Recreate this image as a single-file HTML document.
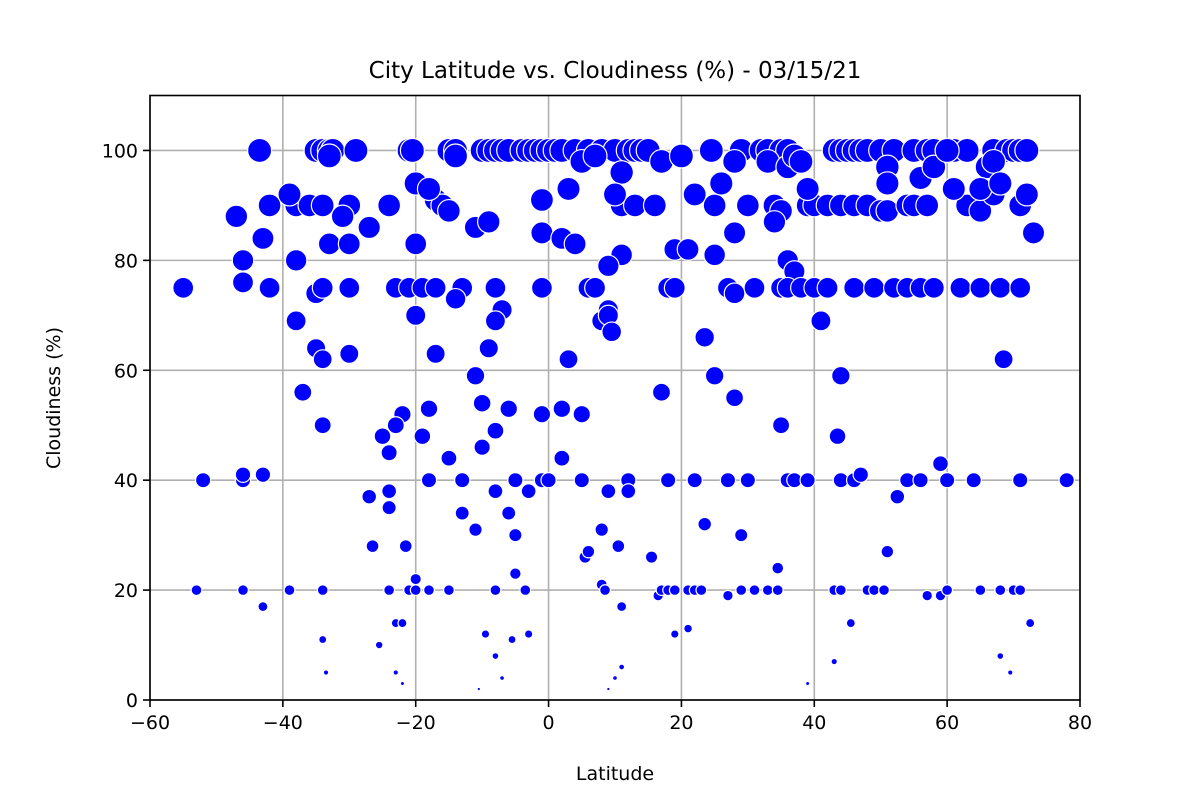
<!DOCTYPE html>
<html><head><meta charset="utf-8"><style>
body{margin:0;background:#fff;}
svg{display:block;font-family:"DejaVu Sans","Liberation Sans",sans-serif;}
</style></head><body>
<svg id="chart" width="1200" height="800">
<rect width="1200" height="800" fill="#fff"/>
<text x="615" y="78" text-anchor="middle" font-size="23" fill="#000">City Latitude vs. Cloudiness (%) - 03/15/21</text>
<g id="grid"></g><g id="pts"></g><g id="axes"></g>
<text x="615" y="780" text-anchor="middle" font-size="19">Latitude</text>
<text transform="translate(60,398) rotate(-90)" text-anchor="middle" font-size="19">Cloudiness (%)</text>
</svg>
<script>
const lats=[-43.5,-35,-34,-33,-32.5,-29,-21,-20.5,-15,-14,-10,-9,-8,-7,-6,-4,-3,-2,-1,0,1,2,4,6,8,10,12,13,14,15,24.5,29,32,33,35,36,43,44,45,46,47,48,50,52,55,57,58,60,61,63,67,69,70,71,72,
-33,-14,5,7,17,20,28,33,36,37,38,51,66,
-42,-38,-36,-34,-30,-24,-17,-16,-15,11,13,16,25,30,34,35,39,40,42,44,46,48,50,51,54,55,57,63,65,67,71,72,
-39,-20,-18,11,10,22,26,39,51,56,58,60,61,65,67,68,
-47,-31,-27,-11,-9,-33,-30,-20,-43,-1,-1,2,3,4,11,9,19,21,25,28,34,36,37,73,
-55,-46,-42,-38,-35,-34,-30,-23,-21,-19,-17,-13,-14,-8,-1,6,7,18,19,27,28,31,35,36,38,40,42,46,49,52,54,56,58,62,65,68,71,
-46,-38,-20,-7,-8,8,9,9,9.5,23.5,41,68.5,-35,-34,-30,-9,3,-11,25,44,
-37,-17,-34,-18,-22,-23,-25,-19,-10,-6,-1,2,5,-8,-10,17,28,35,43.5,
-52,-46,-46,-43,-24,-18,-13,-15,-5,-1,0,2,5,12,18,22,27,30,36,37,39,44,46,47,54,56,59,60,64,71,78,
-27,-24,-24,-13,-11,-8,-6,-5,-3,9,12,8,23.5,29,52.5,
-26.5,-21.5,-5,5.5,6,10.5,15.5,34.5,51,8,-20,
-53,-46,-39,-34,-24,-21,-20,-18,-15,-8,-3.5,8.5,16.5,17,18,19,21,22,23,27,29,31,33,34.5,43,44,48,49,50.5,57,59,60,65,68,70,71,
-43,-34,-23,-22,-25.5,-9.5,-5.5,-3,11,19,21,45.5,72.5,-33.5,-23,-22,-8,-7,-10.5,11,10,9,39,43,68,69.5];
const clouds=[100,100,100,100,100,100,100,100,100,100,100,100,100,100,100,100,100,100,100,100,100,100,100,100,100,100,100,100,100,100,100,100,100,100,100,100,100,100,100,100,100,100,100,100,100,100,100,100,100,100,100,100,100,100,100,
99,99,98,99,98,99,98,98,97,99,98,97,97,
90,90,90,90,90,90,91,90,89,90,90,90,90,90,90,89,90,90,90,90,90,90,89,89,90,90,90,90,89,92,90,92,
92,94,93,96,92,92,94,93,94,95,97,100,93,93,98,94,
88,88,86,86,87,83,83,83,84,91,85,84,93,83,81,79,82,82,81,85,87,80,78,85,
75,80,75,80,74,75,75,75,75,75,75,75,73,75,75,75,75,75,75,75,74,75,75,75,75,75,75,75,75,75,75,75,75,75,75,75,75,
76,69,70,71,69,69,71,70,67,66,69,62,64,62,63,64,62,59,59,59,
56,63,50,53,52,50,48,48,54,53,52,53,52,49,46,56,55,50,48,
40,40,41,41,45,40,40,44,40,40,40,44,40,40,40,40,40,40,40,40,40,40,40,41,40,40,43,40,40,40,40,
37,38,35,34,31,38,34,30,38,38,38,31,32,30,37,
28,28,23,26,27,28,26,24,27,21,22,
20,20,20,20,20,20,20,20,20,20,20,20,19,20,20,20,20,20,20,19,20,20,20,20,20,20,20,20,20,19,19,20,20,20,20,20,
17,11,14,14,10,12,11,12,17,12,13,14,14,5,5,3,8,4,2,6,4,2,3,7,8,5];
const xTicks=[-60,-40,-20,0,20,40,60,80];
const yTicks=[0,20,40,60,80,100];
const X0=150,X1=1080,Y0=700,Y1=95.5;
const xs=v=>X0+(v+60)/140*(X1-X0);
const ys=v=>Y0-v/110*(Y0-Y1);
const NS='http://www.w3.org/2000/svg';
const mk=(t,a,p)=>{const e=document.createElementNS(NS,t);for(const k in a)e.setAttribute(k,a[k]);p.appendChild(e);return e;};
const grid=document.getElementById('grid'),axes=document.getElementById('axes'),pts=document.getElementById('pts');
xTicks.forEach(t=>{
 const g=mk('line',{x1:xs(t),x2:xs(t),y1:Y1,y2:Y0,stroke:'#b0b0b0','stroke-width':1.6},grid);
 
 
 mk('line',{x1:xs(t),x2:xs(t),y1:Y0,y2:Y0+7,stroke:'#000','stroke-width':1.6},axes);
 const tx=mk('text',{x:xs(t),y:Y0+29,'text-anchor':'middle','font-size':19},axes);
 tx.textContent=t<0?'\u2212'+(-t):t;
 
 
});
yTicks.forEach(t=>{
 const g=mk('line',{x1:X0,x2:X1,y1:ys(t),y2:ys(t),stroke:'#b0b0b0','stroke-width':1.6},grid);
 
 
 mk('line',{x1:X0-7,x2:X0,y1:ys(t),y2:ys(t),stroke:'#000','stroke-width':1.6},axes);
 const tx=mk('text',{x:X0-12,y:ys(t)+7,'text-anchor':'end','font-size':19},axes);
 tx.textContent=t;
 
 
});
const fr=mk('rect',{x:X0,y:Y1,width:X1-X0,height:Y0-Y1,fill:'none',stroke:'#000','stroke-width':1.6},axes);


lats.forEach((la,i)=>{
 const c=clouds[i];
 const p=mk('circle',{cx:xs(la),cy:ys(c),r:Math.max(0.8,1.2*Math.sqrt(c)),fill:'#0000ff',stroke:'#fff','stroke-width':1.2},pts);
 
 
});
</script>
</body></html>
